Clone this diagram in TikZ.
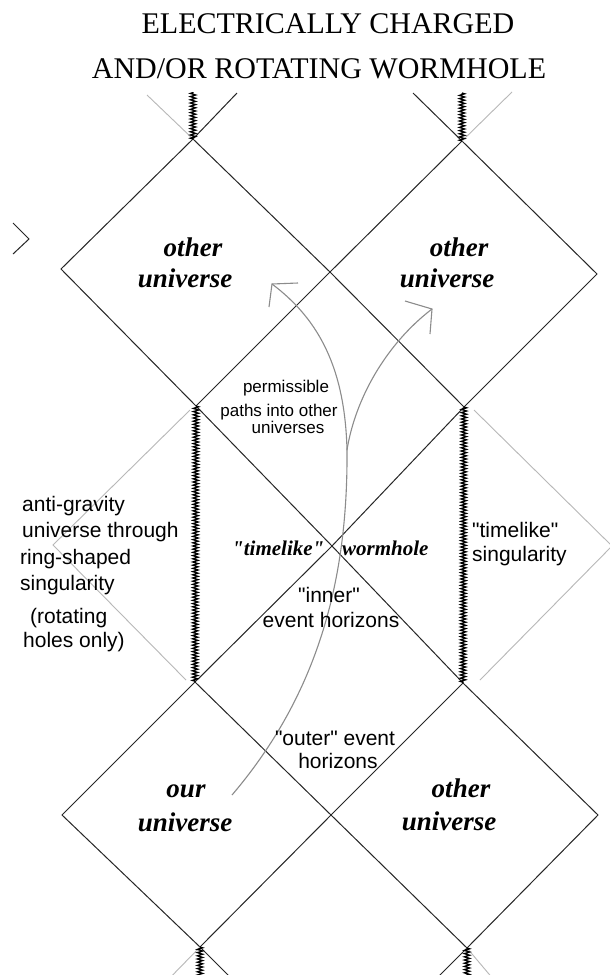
\documentclass[tikz,border=0pt]{standalone}
\usepackage{fontspec}
\setmainfont{Liberation Serif}[Ligatures=TeXOff]
\newfontfamily\sansf{Liberation Sans}
\usetikzlibrary{decorations.pathmorphing}
\begin{document}
\begin{tikzpicture}[x=1pt,y=-1pt,
  hline/.style={draw=black!85,line width=1pt},
  faint/.style={draw=black!28,line width=0.9pt},
  sing/.style={draw=black,line width=1.3pt,decorate,decoration={zigzag,segment length=3.2pt,amplitude=2.6pt}},
  pathline/.style={draw=black!45,line width=1.1pt},
  uni/.style={font=\fontsize{27}{31}\selectfont\bfseries\itshape,anchor=base,inner sep=0pt},
  wl/.style={font=\fontsize{21}{26}\selectfont\bfseries\itshape,anchor=base west,inner sep=0pt},
  lab/.style={font=\sansf\fontsize{21}{26}\selectfont,anchor=base west,inner sep=0pt},
  labc/.style={font=\sansf\fontsize{21}{26}\selectfont,anchor=base,inner sep=0pt},
  small/.style={font=\sansf\fontsize{17}{20}\selectfont,anchor=base,inner sep=0pt},
  ttl/.style={font=\fontsize{30}{36}\selectfont,anchor=base,inner sep=0pt}]
\useasboundingbox (0,0) rectangle (610,975);
\clip (0,0) rectangle (610,975);
\fill[white] (0,0) rectangle (610,975);

% vertices
\coordinate (T1) at (193,139);
\coordinate (T2) at (462,141);
\coordinate (L1) at (61,269);
\coordinate (C1) at (330,272);
\coordinate (R1) at (597,274);
\coordinate (B1) at (196,406);
\coordinate (B2) at (464,407);
\coordinate (C2) at (332,546);
\coordinate (T3) at (195,682);
\coordinate (T4) at (463,683);
\coordinate (L3) at (62,815);
\coordinate (C3) at (331,815);
\coordinate (R3) at (598,815);
\coordinate (B3) at (200,947);
\coordinate (B4) at (467,948);
% extensions
\coordinate (E1) at (147,95);
\coordinate (E2) at (237,93);
\coordinate (Z1) at (193,92);
\coordinate (E3) at (413,93);
\coordinate (E4) at (512,92);
\coordinate (Z2) at (462,93);
\coordinate (E5) at (160,988);
\coordinate (E6) at (233,980);
\coordinate (Z3) at (200,990);
\coordinate (E7) at (433,982);
\coordinate (E8) at (494,980);
\coordinate (Z4) at (467,990);
% faint diamonds
\coordinate (GL1) at (190,410);
\coordinate (GL2) at (53,545);
\coordinate (GL3) at (186,680);
\coordinate (GR1) at (474,410);
\coordinate (GR2) at (612,546);
\coordinate (GR3) at (480,680);
% left edge mark
\coordinate (G1) at (13,223);
\coordinate (G2) at (29,239);
\coordinate (G3) at (13,254);

% title
\node[ttl] (t1) at (328,33) {ELECTRICALLY CHARGED};
\node[ttl] (t2) at (319,78) {AND/OR ROTATING WORMHOLE};

% horizons
\draw[hline] (T1) -- (C1) -- (B2);
\draw[hline] (T2) -- (C1) -- (B1);
\draw[hline] (T1) -- (L1) -- (B1);
\draw[hline] (T2) -- (R1) -- (B2);
\draw[hline] (B1) -- (C2) -- (T4);
\draw[hline] (B2) -- (C2) -- (T3);
\draw[hline] (T3) -- (L3) -- (B3);
\draw[hline] (T3) -- (C3) -- (B4);
\draw[hline] (T4) -- (C3) -- (B3);
\draw[hline] (T4) -- (R3) -- (B4);
\draw[hline] (G1) -- (G2) -- (G3);

% extensions
\draw[faint] (T1) -- (E1);
\draw[hline] (T1) -- (E2);
\draw[hline] (T2) -- (E3);
\draw[faint] (T2) -- (E4);
\draw[faint] (B3) -- (E5);
\draw[hline] (B3) -- (E6);
\draw[hline] (B4) -- (E7);
\draw[faint] (B4) -- (E8);

% faint side diamonds
\draw[faint] (GL1) -- (GL2) -- (GL3);
\draw[faint] (GR1) -- (GR2) -- (GR3);

% singularities
\draw[sing] (T1) -- (Z1);
\draw[sing] (T2) -- (Z2);
\draw[sing] (B1) -- (T3);
\draw[sing] (B2) -- (T4);
\draw[sing] (B3) -- (Z3);
\draw[sing] (B4) -- (Z4);

% paths
\coordinate (S) at (232,795);
\coordinate (K) at (347,450);
\coordinate (A1) at (272,284);
\coordinate (A1a) at (298,283);
\coordinate (A1b) at (269,307);
\coordinate (A2) at (432,309);
\coordinate (A2a) at (405,301);
\coordinate (A2b) at (430,334);
\draw[pathline] (S) .. controls (318,694) and (348,580) .. (K);
\draw[pathline] (K) .. controls (345,370) and (320,320) .. (A1);
\draw[pathline] (K) .. controls (355,400) and (385,345) .. (A2);
\draw[pathline] (A1a) -- (A1) -- (A1b);
\draw[pathline] (A2a) -- (A2) -- (A2b);

% universe labels
\node[uni] (o1a) at (193,256) {other};
\node[uni] (o1b) at (185,287) {universe};
\node[uni] (o2a) at (459,256) {other};
\node[uni] (o2b) at (447,287) {universe};
\node[uni] (o3a) at (186,797) {our};
\node[uni] (o3b) at (185,831) {universe};
\node[uni] (o4a) at (461,797) {other};
\node[uni] (o4b) at (449,830) {universe};
\node[wl] (tl) at (232,555) {"timelike"};
\node[wl] (wh) at (342,555) {wormhole};

% sans labels
\node[small] (p1) at (286,392) {permissible};
\node[small] (p2) at (279,416) {paths into other};
\node[small] (p3) at (288,433) {universes};

\node[lab] (a1) at (22,511) {anti-gravity};
\node[lab] (a2) at (22,537) {universe through};
\node[lab] (a3) at (20,564) {ring-shaped};
\node[lab] (a4) at (20,590) {singularity};
\node[lab] (a5) at (30,623) {(rotating};
\node[lab] (a6) at (23,647) {holes only)};

\node[lab] (s1) at (472,537) {"timelike"};
\node[lab] (s2) at (472,561) {singularity};

\node[labc] (i1) at (329,602) {"inner"};
\node[labc] (i2) at (331,627) {event horizons};

\node[labc] (u1) at (335,745) {"outer" event};
\node[labc] (u2) at (338,768) {horizons};
\end{tikzpicture}
\end{document}
